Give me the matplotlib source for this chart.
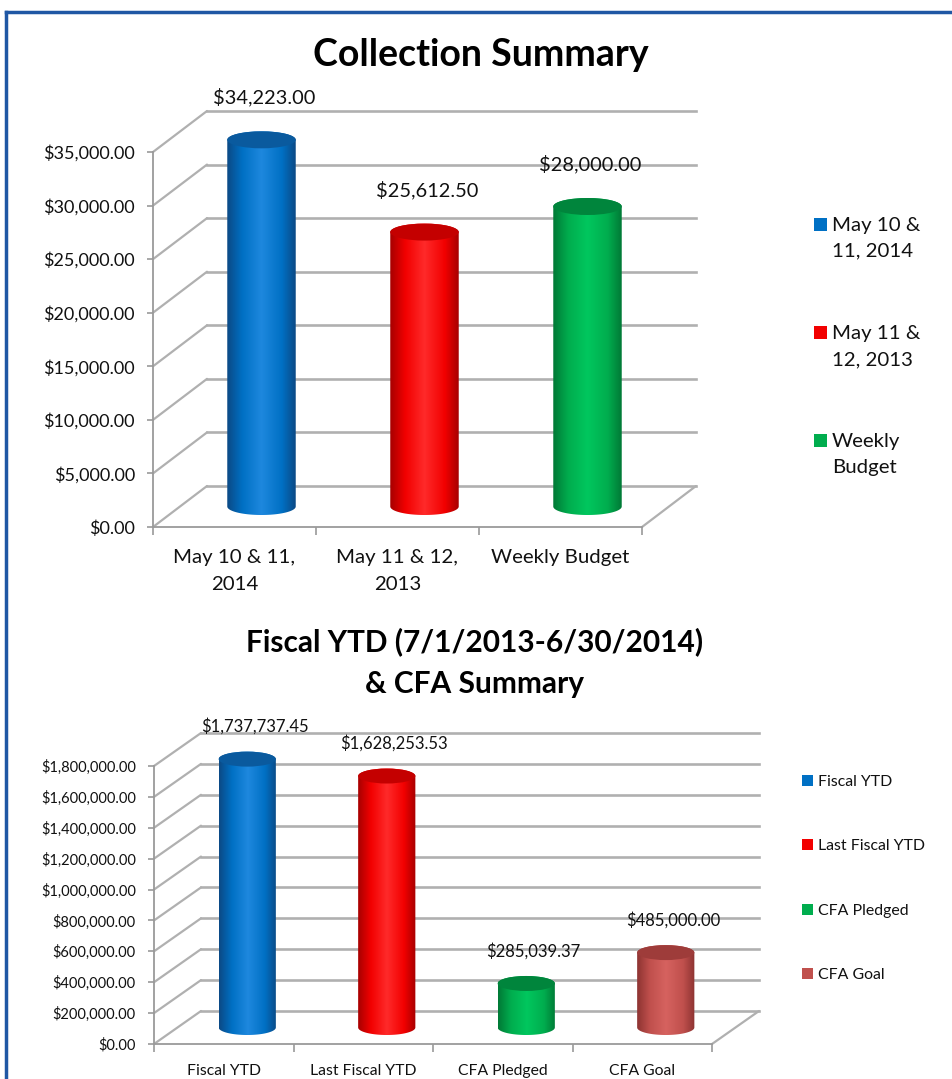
import numpy as np
import matplotlib
matplotlib.use("Agg")
import matplotlib.pyplot as plt
import matplotlib.transforms as mtransforms
from matplotlib.colors import LinearSegmentedColormap
from matplotlib.patches import Polygon, Ellipse, Rectangle, Patch, ConnectionPatch
from matplotlib.legend_handler import HandlerPatch
from matplotlib.lines import Line2D
from matplotlib.ticker import FuncFormatter

plt.rcParams['font.family'] = ['Lato', 'DejaVu Sans']

# top chart data
coll_cats = ["May 10 & 11,\n2014", "May 11 & 12,\n2013", "Weekly Budget"]
coll_series = ["May 10 &\n11, 2014", "May 11 &\n12, 2013", "Weekly\nBudget"]
coll_values = [34223.00, 25612.50, 28000.00]
coll_yticks = [0, 5000, 10000, 15000, 20000, 25000, 30000, 35000]

# bottom chart data
ytd_cats = ["Fiscal YTD", "Last Fiscal YTD", "CFA Pledged", "CFA Goal"]
ytd_values = [1737737.45, 1628253.53, 285039.37, 485000.00]
ytd_yticks = [0, 200000, 400000, 600000, 800000, 1000000, 1200000, 1400000, 1600000, 1800000]

# edge, body, highlight, cap
blue = ("#0b4a86", "#0070c4", "#1e88de", "#0a5a9e")
red = ("#a80000", "#f20000", "#ff2a2a", "#c40000")
green = ("#007a36", "#00ad4e", "#00c75e", "#00853c")
brown = ("#8e3432", "#c0504d", "#d6625f", "#9e3c3a")

W, H = 953, 1079
fig = plt.figure(figsize=(W / 100, H / 100), dpi=100)
grid = "#b0b0b0"
axis_col = "#9a9a9a"
txt = "#111111"


def px_axes(x0, x1, y0, y1):
    # front plane of the 3d box, pixel bounds measured from top-left
    return fig.add_axes([x0 / W, 1 - y1 / H, (x1 - x0) / W, (y1 - y0) / H])


class FirstLineSquare(HandlerPatch):
    # legend square lined up with the first line of a two line label
    def __init__(self, lift):
        super().__init__()
        self.lift = lift

    def create_artists(self, legend, orig_handle, xdescent, ydescent, width, height, fontsize, trans):
        p = Rectangle((-xdescent, -ydescent + self.lift * fontsize), width, height,
                      facecolor=orig_handle.get_facecolor(), edgecolor="none", transform=trans)
        return [p]


def chart(ax, cats, values, yticks, colors, depth, bar_w, ell_px,
          fs_tick, fs_cat, fs_lab, cat_pad, lab_off):
    n = len(cats)
    ymax = yticks[-1]
    ax.set_xlim(-0.5, n - 0.5)
    ax.set_ylim(0, ymax)
    ax.patch.set_alpha(0)
    dx, dy = depth
    back = ax.transData + mtransforms.ScaledTranslation(dx / fig.dpi, dy / fig.dpi, fig.dpi_scale_trans)
    mid = ax.transData + mtransforms.ScaledTranslation(dx / 2 / fig.dpi, dy / 2 / fig.dpi, fig.dpi_scale_trans)

    # back wall, side wall and floor
    for v in yticks:
        ax.plot([-0.5, n - 0.5], [v, v], transform=back, color=grid, lw=1.9, clip_on=False, zorder=1)
        ax.add_artist(ConnectionPatch((-0.5, v), (-0.5, v), ax.transData, back,
                                      color=grid, lw=1.6, zorder=1, clip_on=False))
    ax.add_artist(ConnectionPatch((n - 0.5, 0), (n - 0.5, 0), ax.transData, back,
                                  color=grid, lw=1.6, zorder=1, clip_on=False))

    # cylinders
    h_px = ax.get_position().height * H
    e = ell_px / 2 * ymax / h_px
    t = np.linspace(0, np.pi, 80)
    for i, (v, c) in enumerate(zip(values, colors)):
        xs = np.concatenate([i - bar_w / 2 * np.cos(t), i + bar_w / 2 * np.cos(t)])
        ys = np.concatenate([-e * np.sin(t), v + e * np.sin(t)])
        body = Polygon(np.column_stack([xs, ys]), closed=True, transform=mid,
                       facecolor="none", edgecolor="none")
        ax.add_patch(body)
        cmap = LinearSegmentedColormap.from_list(
            "cyl", [(0, c[0]), (0.22, c[1]), (0.5, c[2]), (0.8, c[1]), (1, c[0])])
        im = ax.imshow(np.linspace(0, 1, 100)[None, :], cmap=cmap, vmin=0, vmax=1,
                       extent=(i - bar_w / 2, i + bar_w / 2, -e, v + e), transform=mid,
                       aspect="auto", interpolation="bilinear", zorder=3)
        im.set_clip_path(body)
        im.set_clip_box(fig.bbox)
        ax.add_patch(Ellipse((i, v), bar_w, 2 * e, transform=mid, facecolor=c[3],
                             edgecolor="none", zorder=4, clip_on=False))
        ax.annotate(f"${v:,.2f}", (i, v), xytext=lab_off, textcoords="offset pixels",
                    ha="center", va="center", fontsize=fs_lab, color=txt,
                    annotation_clip=False, zorder=5)

    for s in ("top", "right"):
        ax.spines[s].set_visible(False)
    for s in ("left", "bottom"):
        ax.spines[s].set_color(axis_col)
        ax.spines[s].set_linewidth(1.3)
    ax.set_yticks(yticks)
    ax.yaxis.set_major_formatter(FuncFormatter(lambda v, p: f"${v:,.2f}"))
    ax.tick_params(axis="y", length=4, width=1.2, color=axis_col, labelsize=fs_tick,
                   labelcolor=txt, pad=9)
    ax.set_xticks(np.arange(n + 1) - 0.5)
    ax.set_xticklabels([])
    ax.set_xticks(np.arange(n), cats, minor=True)
    ax.tick_params(axis="x", which="major", length=6, width=1.2, color=axis_col)
    ax.tick_params(axis="x", which="minor", length=0, labelsize=fs_cat, labelcolor=txt, pad=cat_pad)
    for lab in ax.get_xticklabels(minor=True):
        lab.set_linespacing(1.75)


ax1 = px_axes(153, 642, 152, 527)
chart(ax1, coll_cats, coll_values, coll_yticks, [blue, red, green],
      depth=(54, 41), bar_w=0.42, ell_px=17, fs_tick=13, fs_cat=14.7, fs_lab=14.4,
      cat_pad=15.5, lab_off=(30, 63))

ax2 = px_axes(154, 712, 766, 1044)
chart(ax2, ytd_cats, ytd_values, ytd_yticks, [blue, red, green, brown],
      depth=(47, 33), bar_w=0.41, ell_px=15, fs_tick=10.5, fs_cat=11.3, fs_lab=12,
      cat_pad=14.5, lab_off=(31, 49))

fig.text(481 / W, 1 - 55 / H, "Collection Summary", ha="center", va="center",
         fontsize=27, fontweight="bold", color="#000000")
fig.text(475 / W, 1 - 663 / H, "Fiscal YTD (7/1/2013-6/30/2014)\n& CFA Summary", ha="center",
         va="center", fontsize=21.5, fontweight="bold", color="#000000", linespacing=1.6)

h1 = [Patch(facecolor=c[1]) for c in (blue, red, green)]
leg1 = fig.legend(h1, coll_series, loc="upper left", bbox_to_anchor=(814 / W, 1 - 217 / H),
                  frameon=False, fontsize=14.7, handlelength=0.64, handleheight=0.64,
                  handletextpad=0.25, labelspacing=3.2, borderpad=0, borderaxespad=0,
                  handler_map={Patch: FirstLineSquare(0.68)})
for tx in leg1.get_texts():
    tx.set_linespacing(1.63)
    tx.set_color(txt)

h2 = [Patch(facecolor=c[1]) for c in (blue, red, green, brown)]
leg2 = fig.legend(h2, ytd_cats, loc="upper left", bbox_to_anchor=(802 / W, 1 - 775 / H),
                  frameon=False, fontsize=11.4, handlelength=0.7, handleheight=0.7,
                  handletextpad=0.3, labelspacing=3.17, borderpad=0, borderaxespad=0)
for tx in leg2.get_texts():
    tx.set_color(txt)

# outer border
border = "#1f57a4"
fig.add_artist(Line2D([6 / W, 1], [1 - 12 / H, 1 - 12 / H], transform=fig.transFigure,
                      color=border, lw=2.5))
fig.add_artist(Line2D([6 / W, 6 / W], [0, 1 - 12 / H], transform=fig.transFigure,
                      color=border, lw=2.5))

fig.savefig("out.png", dpi=100)
